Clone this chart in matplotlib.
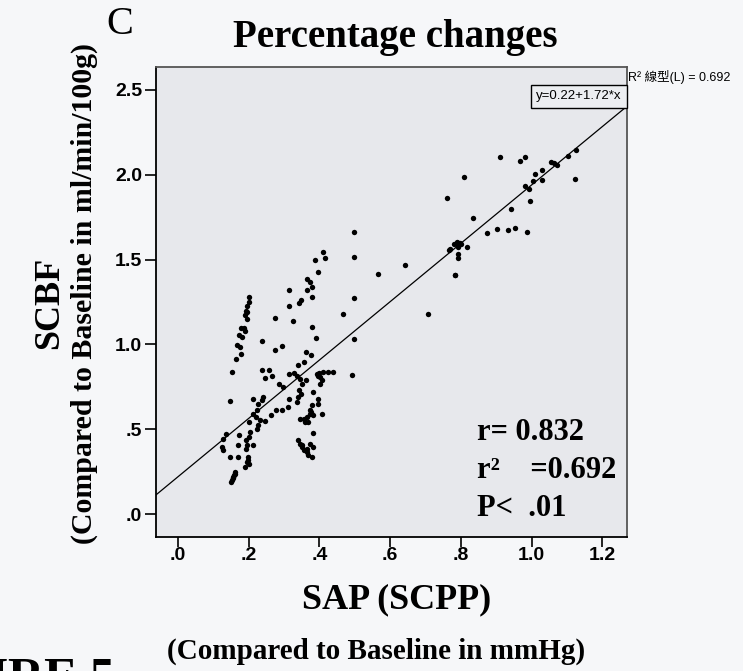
import numpy as np
import matplotlib
matplotlib.use("Agg")
import matplotlib.pyplot as plt

# percentage changes (x = SAP/SCPP, y = SCBF)
sap_pct = [
    # upper band, x .3-.5
    0.411, 0.416, 0.498, 0.388, 0.397, 0.364, 0.373, 0.378, 0.366, 0.380,
    0.315, 0.347, 0.343, 0.315, 0.326, 0.275, 0.378, 0.390, 0.237, 0.273,
    0.293, 0.362, 0.375, 0.357, 0.340, 0.315, 0.328, 0.468, 0.498, 0.498,
    0.493, 0.565, 0.642, 0.708, 0.498,
    # left streak
    0.202, 0.200, 0.196, 0.192, 0.196, 0.190, 0.194, 0.177, 0.187, 0.190,
    0.174, 0.180, 0.168, 0.175, 0.177, 0.164, 0.152, 0.147,
    # middle cluster
    0.237, 0.258, 0.246, 0.265, 0.287, 0.298, 0.336, 0.345, 0.362, 0.350,
    0.343, 0.347, 0.340, 0.336, 0.315, 0.293, 0.277, 0.312, 0.262, 0.240,
    0.237, 0.211, 0.227, 0.223, 0.213, 0.221, 0.232, 0.246, 0.227, 0.223,
    0.202, 0.204, 0.202, 0.192, 0.196, 0.192, 0.213, 0.199, 0.194, 0.190,
    0.173, 0.171, 0.171, 0.147, 0.136, 0.128, 0.124, 0.126, 0.161, 0.157,
    0.152, 0.149, 0.158, 0.155, 0.160, 0.197, 0.200,
    # lower right cluster, x ~.35-.44
    0.392, 0.402, 0.402, 0.411, 0.425, 0.438, 0.406, 0.383, 0.397, 0.378,
    0.373, 0.372, 0.383, 0.406, 0.397, 0.364, 0.359, 0.355, 0.345, 0.369,
    0.383, 0.340, 0.345, 0.350, 0.355, 0.364, 0.369, 0.378, 0.383, 0.373,
    0.364, 0.400, 0.395, 0.375, 0.352,
    # upper right, x .75-1.13
    0.911, 0.966, 0.982, 0.809, 0.760, 0.834, 0.769, 0.780, 0.788, 0.797,
    0.801, 0.784, 0.793, 0.791, 0.817, 0.784, 0.875, 0.901, 0.932, 0.954,
    0.986, 0.941, 0.996, 0.994, 0.982, 1.003, 1.029, 1.010, 1.029, 1.054,
    1.064, 1.071, 1.104, 1.125, 1.123, 0.767, 0.793, 0.788,
]
scbf_pct = [
    1.543, 1.510, 1.518, 1.498, 1.425, 1.386, 1.367, 1.337, 1.318, 1.282,
    1.318, 1.263, 1.243, 1.229, 1.137, 1.157, 1.102, 1.039, 1.020, 0.969,
    0.992, 0.955, 0.939, 0.896, 0.876, 0.827, 0.831, 1.180, 1.275, 1.031,
    0.818, 1.416, 1.471, 1.180, 1.660,
    1.278, 1.249, 1.229, 1.200, 1.190, 1.171, 1.151, 1.098, 1.098, 1.082,
    1.053, 1.043, 0.994, 0.984, 0.945, 0.916, 0.837, 0.667,
    0.851, 0.851, 0.804, 0.812, 0.765, 0.749, 0.812, 0.798, 0.788, 0.769,
    0.729, 0.710, 0.690, 0.661, 0.680, 0.616, 0.616, 0.631, 0.582, 0.690,
    0.671, 0.680, 0.651, 0.616, 0.592, 0.573, 0.553, 0.549, 0.524, 0.504,
    0.543, 0.484, 0.455, 0.435, 0.406, 0.386, 0.406, 0.337, 0.308, 0.278,
    0.469, 0.406, 0.337, 0.337, 0.475, 0.445, 0.396, 0.376, 0.239, 0.220,
    0.200, 0.190, 0.229, 0.210, 0.250, 0.320, 0.295,
    0.827, 0.808, 0.769, 0.837, 0.837, 0.837, 0.788, 0.720, 0.680, 0.641,
    0.616, 0.592, 0.582, 0.592, 0.651, 0.573, 0.543, 0.563, 0.563, 0.543,
    0.478, 0.435, 0.416, 0.396, 0.376, 0.367, 0.347, 0.337, 0.396, 0.416,
    0.386, 0.830, 0.815, 0.600, 0.405,
    2.106, 2.082, 2.106, 1.984, 1.863, 1.745, 1.563, 1.590, 1.600, 1.600,
    1.590, 1.412, 1.533, 1.510, 1.573, 1.412, 1.657, 1.680, 1.676, 1.686,
    1.661, 1.798, 1.843, 1.916, 1.935, 1.961, 1.969, 2.004, 2.027, 2.078,
    2.067, 2.059, 2.108, 2.147, 1.975, 1.557, 1.575, 1.605,
]

intercept = 0.22
slope = 1.72
r_value = 0.832
r_sq = 0.692

xticks = [0.0, 0.2, 0.4, 0.6, 0.8, 1.0, 1.2]
xtick_labels = ['.0', '.2', '.4', '.6', '.8', '1.0', '1.2']
yticks = [0.0, 0.5, 1.0, 1.5, 2.0, 2.5]
ytick_labels = ['.0', '.5', '1.0', '1.5', '2.0', '2.5']

serif = 'Liberation Serif'
sans = 'Liberation Sans'

fig = plt.figure(figsize=(7.43, 6.71), dpi=100)
fig.patch.set_facecolor('#f6f7f9')
ax = fig.add_axes([0.21, 0.1997, 0.634, 0.7004])
ax.set_facecolor('#e7e8ec')

xmin, xmax = -0.062, 1.27
ymin, ymax = -0.135, 2.635

ax.scatter(sap_pct, scbf_pct, s=15, c='black', linewidths=0, zorder=3)

xl = np.array([xmin, xmax])
ax.plot(xl, intercept + slope * xl, color='black', lw=0.9, zorder=2)

ax.set_xlim(xmin, xmax)
ax.set_ylim(ymin, ymax)
ax.set_xticks(xticks)
ax.set_xticklabels(xtick_labels)
ax.set_yticks(yticks)
ax.set_yticklabels(ytick_labels)
ax.tick_params(axis='both', direction='out', length=8, width=1.2, color='black')
ax.tick_params(axis='x', length=7, pad=0)
ax.tick_params(axis='y', pad=2)
for lab in ax.get_xticklabels() + ax.get_yticklabels():
    lab.set_fontfamily(sans)
    lab.set_fontweight('bold')
    lab.set_fontsize(14)

ax.spines['left'].set_color('black')
ax.spines['bottom'].set_color('black')
ax.spines['top'].set_color('#555555')
ax.spines['right'].set_color('#555555')
for sp in ax.spines.values():
    sp.set_linewidth(1.3)

# equation label at the end of the fit line
ax.text(xmax - 0.016, intercept + slope * xmax + 0.022, 'y=0.22+1.72*x',
        ha='right', va='bottom', fontsize=9.5, family=sans,
        bbox=dict(boxstyle='square,pad=0.4', fc='#eceef1', ec='black', lw=1.0))

# stats block
ax.text(0.846, 0.478, 'r= %.3f' % r_value, ha='left', va='center',
        fontsize=22, family=serif, fontweight='bold')
ax.text(0.846, 0.258, 'r²    =%.3f' % r_sq, ha='left', va='center',
        fontsize=22, family=serif, fontweight='bold')
ax.text(0.846, 0.035, 'P<  .01', ha='left', va='center',
        fontsize=22, family=serif, fontweight='bold')

fig.text(628 / 743, 1 - 77 / 671, 'R² 線型(L) = %.3f' % r_sq, ha='left', va='center',
         fontsize=9, family=[sans, 'Noto Sans CJK TC'])

fig.text(120 / 743, 1 - 24 / 671, 'C', ha='center', va='center',
         fontsize=29, family=serif)
fig.text(395 / 743, 1 - 38 / 671, 'Percentage changes', ha='center', va='center',
         fontsize=28, family=serif, fontweight='bold')

fig.text(50 / 743, 1 - 303 / 671, 'SCBF', ha='center', va='center', rotation=90,
         fontsize=26, family=serif, fontweight='bold')
fig.text(84 / 743, 1 - 293 / 671, '(Compared to Baseline in ml/min/100g)', ha='center',
         va='center', rotation=90, fontsize=21.5, family=serif, fontweight='bold')

fig.text(397 / 743, 1 - 600 / 671, 'SAP (SCPP)', ha='center', va='center',
         fontsize=26, family=serif, fontweight='bold')
fig.text(376 / 743, 1 - 651 / 671, '(Compared to Baseline in mmHg)', ha='center',
         va='center', fontsize=21, family=serif, fontweight='bold')

# figure caption cut off by the crop
fig.text(115 / 743, 1 - 656 / 671, 'FIGURE 5', ha='right', va='top',
         fontsize=36, family=serif, fontweight='bold')

fig.savefig('out.png', dpi=100, facecolor=fig.get_facecolor())
